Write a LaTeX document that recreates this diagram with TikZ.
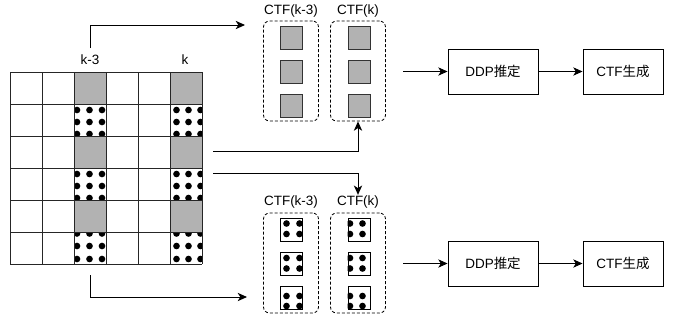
\documentclass[tikz,border=0pt]{standalone}
\usepackage{fontspec}
\setmainfont{Liberation Sans}
\newfontfamily\cjk{Noto Sans CJK JP}
\usepackage{tikz}
\usetikzlibrary{arrows.meta, positioning}
\tikzset{
    diagram/.style={font=\fontsize{11.5}{13}\selectfont},
    diagram box/.style={draw, line width=0.8pt, align=center,
        minimum width=27mm, minimum height=13.5mm},
    diagram arrow/.style={-{Stealth[length=2.8mm, width=2.5mm, inset=0.8mm]}, line width=0.8pt},
    diagram group/.style={draw, dash pattern=on 0.9mm off 0.6mm, line width=0.7pt,
        rounded corners=1.8mm, minimum width=16.5mm, minimum height=30mm},
    diagram label/.style={inner sep=1pt},
}
% dots clipped to a rectangle: corner, corner, x-list, y-list (macro)
\newcommand{\celldots}[4]{%
  \begin{scope}
    \clip #1 rectangle #2;
    \foreach \dx in {#3} \foreach \dy in #4 \fill (\dx,\dy) circle (1mm);
  \end{scope}}

\begin{document}
\begin{tikzpicture}[
    diagram,
    x=0.03cm, y=-0.03cm,
    cellgray/.style={fill=black!30},
    gridline/.style={draw=black!85, line width=0.8pt},
    pilot/.style={draw=black!80, fill=black!30, line width=0.8pt,
        minimum width=6.6mm, minimum height=6.9mm, inner sep=0pt},
    dotsq/.style={draw, line width=0.8pt,
        minimum width=6.6mm, minimum height=6.9mm, inner sep=0pt}
  ]
    \useasboundingbox (0,0) rectangle (678,322);

    % resource grid
    \foreach \col in {74,170}
      \foreach \row in {72,136,200}
        \fill[cellgray] (\col,\row) rectangle ++(32,32);
    \foreach \row/\ys in {104/{110,122,134}, 168/{174,186,198}, 232/{233.5,246,259}} {
      \celldots{(74,\row)}{(106,\row+32)}{77,89.5,102}{\ys}
      \celldots{(170,\row)}{(202,\row+32)}{176.5,188.5,200.5}{\ys}
    }
    \foreach \i in {0,...,6} {
      \draw[gridline] (10+32*\i,72) -- (10+32*\i,264);
      \draw[gridline] (10,72+32*\i) -- (202,72+32*\i);
    }
    \node[diagram label] (kA) at (90,60) {k-3};
    \node[diagram label] (kB) at (185,60) {k};

    % pilot CTF
    \node[diagram group] (grpA) at (291,71) {};
    \node[diagram group] (grpB) at (358,71) {};
    \node[diagram label] (ctfA) at (291,11) {CTF(k-3)};
    \node[diagram label] (ctfB) at (358,11) {CTF(k)};
    \foreach \y [count=\i] in {37.5,71.5,105.5} {
      \node[pilot] (pA\i) at (291,\y) {};
      \node[pilot] (pB\i) at (359,\y) {};
    }

    % data CTF
    \node[diagram group] (grpC) at (291,263) {};
    \node[diagram group] (grpD) at (358,263) {};
    \node[diagram label] (ctfC) at (291,202.5) {CTF(k-3)};
    \node[diagram label] (ctfD) at (358,202.5) {CTF(k)};
    \foreach \y/\ys [count=\i] in {229.5/{223.5,234}, 263.5/{258,268.5}, 298/{296,306}} {
      \node[dotsq] (dA\i) at (291,\y) {};
      \node[dotsq] (dB\i) at (359,\y) {};
      \celldots{(dA\i.south west)}{(dA\i.north east)}{286.5,299.5}{\ys}
      \celldots{(dB\i.south west)}{(dB\i.north east)}{350,362.5}{\ys}
    }

    % estimation chain
    \node[diagram box] (ddpA) at (493,71.5) {DDP{\cjk 推定}};
    \node[diagram box, minimum width=24mm] (genA) at (623,71.5) {CTF{\cjk 生成}};
    \node[diagram box] (ddpB) at (493,263.5) {DDP{\cjk 推定}};
    \node[diagram box, minimum width=24mm] (genB) at (623,263.5) {CTF{\cjk 生成}};

    \coordinate (kAtop) at (90,48);
    \coordinate (toTop) at (245,25);
    \coordinate (midA) at (213,151);
    \coordinate (midB) at (213,173);
    \coordinate (gridout) at (90,275);
    \coordinate (toBot) at (247,297);
    \coordinate (inA) at (403,71.5);
    \coordinate (inB) at (403,263.5);

    \draw[diagram arrow] (kAtop) |- (toTop);
    \draw[diagram arrow] (midA) -| (grpB.south);
    \draw[diagram arrow] (midB) -| (ctfD.north);
    \draw[diagram arrow] (gridout) |- (toBot);
    \draw[diagram arrow] (inA) -- (ddpA);
    \draw[diagram arrow] (ddpA) -- (genA);
    \draw[diagram arrow] (inB) -- (ddpB);
    \draw[diagram arrow] (ddpB) -- (genB);
  \end{tikzpicture}
\end{document}
